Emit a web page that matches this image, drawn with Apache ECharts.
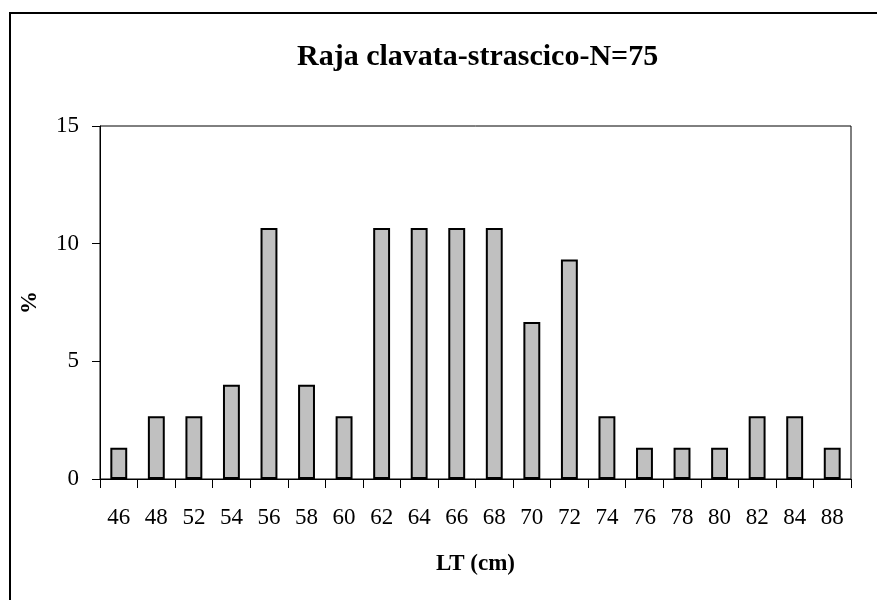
<!DOCTYPE html>
<html><head><meta charset="utf-8">
<script src="https://cdn.jsdelivr.net/npm/echarts@6/dist/echarts.min.js"></script>
<style>html,body{margin:0;padding:0;background:#fff}#c{width:877px;height:600px}</style>
</head><body><div id="c"></div>
<script>
const categories = ['46','48','52','54','56','58','60','62','64','66','68','70','72','74','76','78','80','82','84','88'];
const percentValues = [1.33,2.67,2.67,4.0,10.67,4.0,2.67,10.67,10.67,10.67,10.67,6.67,9.33,2.67,1.33,1.33,1.33,2.67,2.67,1.33];
const yTicks = [0,5,10,15];
const titleText = 'Raja clavata-strascico-N=75';
const xName = 'LT (cm)';
const yName = '%';

const font = 'Liberation Serif, Times New Roman, serif';
const chart = echarts.init(document.getElementById('c'), null, {renderer:'canvas'});
chart.setOption({
  animation:false,
  backgroundColor:'#fff',
  title:{text:titleText,left:292,top:37,textStyle:{fontFamily:font,fontWeight:'bold',fontSize:30,color:'#000'}},
  graphic:[{type:'rect',shape:{x:10,y:13,width:900,height:700},style:{fill:'none',stroke:'#000',lineWidth:2},silent:true}],
  grid:{left:100,right:26,top:126,bottom:121,show:true,borderColor:'#000',borderWidth:1,backgroundColor:'transparent'},
  xAxis:{type:'category',data:categories,boundaryGap:true,
    name:xName,nameLocation:'middle',nameGap:74,
    nameTextStyle:{fontFamily:font,fontWeight:'bold',fontSize:23,color:'#000'},
    axisLine:{lineStyle:{color:'#000',width:1}},
    axisTick:{show:true,interval:0,length:9,lineStyle:{color:'#000'}},
    axisLabel:{interval:0,fontFamily:font,fontSize:23,color:'#000',margin:27},
    splitLine:{show:false}},
  yAxis:{type:'value',min:yTicks[0],max:yTicks[yTicks.length-1],interval:5,
    name:yName,nameLocation:'middle',nameGap:58,nameRotate:90,
    nameTextStyle:{fontFamily:font,fontWeight:'bold',fontSize:23,color:'#000'},
    axisLine:{show:true,lineStyle:{color:'#000',width:1}},
    axisTick:{show:true,length:8,lineStyle:{color:'#000'}},
    axisLabel:{fontFamily:font,fontSize:23,color:'#000',margin:21},
    splitLine:{show:false}},
  series:[{type:'bar',data:percentValues,barWidth:'45%',
    itemStyle:{color:'#c0c0c0',borderColor:'#000',borderWidth:2}}]
});
</script></body></html>
